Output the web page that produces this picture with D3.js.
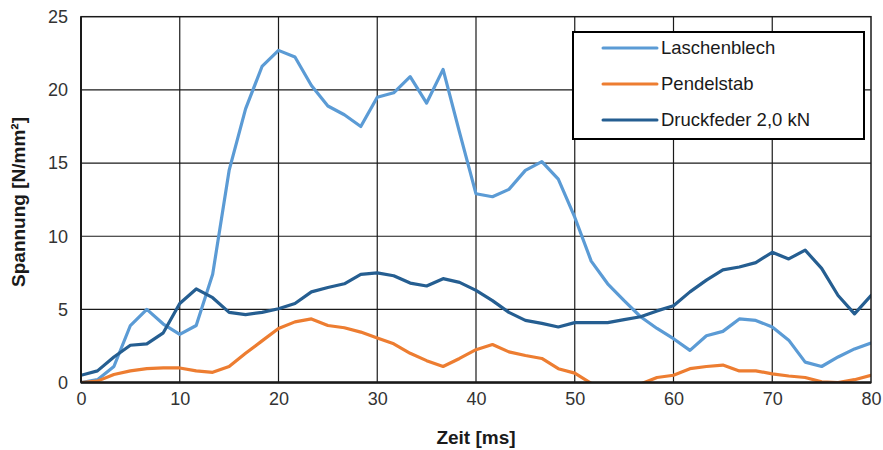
<!DOCTYPE html>
<html>
<head>
<meta charset="utf-8">
<title>Spannung</title>
<style>
  body { margin: 0; background: #fff; }
  svg { font-family: "Liberation Sans", Arial, sans-serif; }
  .grid line { stroke: #1a1a1a; stroke-width: 1.2px; }
  .tick text { fill: #333; font-size: 18px; }
  .axis-title { font-weight: bold; font-size: 19px; fill: #1a1a1a; }
  .legend text { font-size: 18.5px; fill: #1a1a1a; }
</style>
</head>
<body>
<svg width="883" height="450"></svg>
<script src="https://d3js.org/d3.v7.min.js"></script>
<script>

// sample index i -> time i*5/3 ms (49 samples, 0..80 ms)
var nSamples = 49;

var laschenblech = [0, 0.2, 1.1, 3.9, 5.0, 4.0, 3.3, 3.9, 7.4, 14.5,
  18.7, 21.6, 22.7, 22.25, 20.3, 18.9, 18.3, 17.5, 19.5, 19.8,
  20.9, 19.1, 21.4, 17.1, 12.9, 12.7, 13.2, 14.5, 15.1, 13.9,
  11.3, 8.3, 6.75, 5.6, 4.5, 3.7, 3.0, 2.2, 3.2, 3.5,
  4.35, 4.25, 3.8, 2.9, 1.4, 1.1, 1.75, 2.3, 2.7];

var pendelstab = [0, 0.1, 0.55, 0.8, 0.95, 1.0, 1.0, 0.8, 0.7, 1.1,
  2.0, 2.85, 3.7, 4.15, 4.35, 3.9, 3.75, 3.45, 3.05, 2.65,
  2.0, 1.5, 1.1, 1.65, 2.25, 2.6, 2.1, 1.85, 1.65, 0.95,
  0.65, -0.05, -0.6, -0.7, -0.1, 0.35, 0.5, 0.95, 1.1, 1.2,
  0.8, 0.8, 0.6, 0.45, 0.35, 0.05, 0.0, 0.2, 0.5];

var druckfeder = [0.5, 0.8, 1.75, 2.55, 2.65, 3.4, 5.4, 6.4, 5.8, 4.8,
  4.65, 4.8, 5.05, 5.4, 6.2, 6.5, 6.75, 7.4, 7.5, 7.3,
  6.8, 6.6, 7.1, 6.85, 6.3, 5.6, 4.8, 4.25, 4.05, 3.8,
  4.1, 4.1, 4.1, 4.3, 4.5, 4.9, 5.25, 6.2, 7.0, 7.7,
  7.9, 8.2, 8.9, 8.45, 9.05, 7.8, 5.95, 4.7, 5.95];

var seriesNames = ["Laschenblech", "Pendelstab", "Druckfeder 2,0 kN"];
var seriesColors = ["#5B9BD5", "#ED7D31", "#255E91"];
var xTicks = [0, 10, 20, 30, 40, 50, 60, 70, 80];
var yTicks = [0, 5, 10, 15, 20, 25];

var svg = d3.select("svg");
var pLeft = 81, pRight = 871, pTop = 16.7, pBottom = 382.6;

var x = d3.scaleLinear().domain([0, 80]).range([pLeft, pRight]);
var y = d3.scaleLinear().domain([0, 25]).range([pBottom, pTop]);

var times = d3.range(nSamples).map(function(i) { return i * 5 / 3; });

// grid
var grid = svg.append("g").attr("class", "grid");
grid.selectAll(".vx").data(xTicks.slice(1, -1)).enter().append("line")
    .attr("x1", function(d) { return x(d); }).attr("x2", function(d) { return x(d); })
    .attr("y1", pTop).attr("y2", pBottom);
grid.selectAll(".hy").data(yTicks.slice(1, -1)).enter().append("line")
    .attr("x1", pLeft).attr("x2", pRight)
    .attr("y1", function(d) { return y(d); }).attr("y2", function(d) { return y(d); });

// axes (labels only, lines drawn as frame)
svg.append("g")
    .attr("transform", "translate(0," + pBottom + ")")
    .call(d3.axisBottom(x).tickValues(xTicks).tickSize(0).tickPadding(10))
    .call(function(g) { g.select(".domain").remove(); });

svg.append("g")
    .attr("transform", "translate(" + pLeft + ",0)")
    .call(d3.axisLeft(y).tickValues(yTicks).tickSize(0).tickPadding(13))
    .call(function(g) { g.select(".domain").remove(); });

// lines, clipped to the plot area
svg.append("clipPath").attr("id", "plot")
  .append("rect").attr("x", pLeft).attr("y", pTop)
    .attr("width", pRight - pLeft).attr("height", pBottom - pTop);

var line = d3.line()
    .x(function(d, i) { return x(times[i]); })
    .y(function(d) { return y(d); });

var data = [laschenblech, pendelstab, druckfeder];
svg.append("g").attr("clip-path", "url(#plot)")
  .selectAll("path").data(data).enter().append("path")
    .attr("d", line)
    .attr("fill", "none")
    .attr("stroke", function(d, i) { return seriesColors[i]; })
    .attr("stroke-width", 3.2)
    .attr("stroke-linejoin", "round")
    .attr("stroke-linecap", "round");

// frame
svg.append("rect")
    .attr("x", pLeft).attr("y", pTop)
    .attr("width", pRight - pLeft).attr("height", pBottom - pTop)
    .attr("fill", "none").attr("stroke", "#1a1a1a").attr("stroke-width", 1.5);
svg.append("line")
    .attr("x1", pLeft).attr("x2", pRight).attr("y1", pBottom).attr("y2", pBottom)
    .attr("stroke", "#1a1a1a").attr("stroke-width", 2.5);
svg.append("line")
    .attr("x1", pLeft).attr("x2", pLeft).attr("y1", pTop).attr("y2", pBottom)
    .attr("stroke", "#1a1a1a").attr("stroke-width", 2);

// axis titles
svg.append("text").attr("class", "axis-title")
    .attr("x", 476).attr("y", 444)
    .attr("text-anchor", "middle").text("Zeit [ms]");
svg.append("text").attr("class", "axis-title")
    .attr("transform", "translate(25," + 202 + ") rotate(-90)")
    .attr("text-anchor", "middle").text("Spannung [N/mm²]");

// legend
var lg = svg.append("g").attr("class", "legend");
lg.append("rect")
    .attr("x", 573).attr("y", 32).attr("width", 291).attr("height", 107)
    .attr("fill", "#fff").attr("stroke", "#000").attr("stroke-width", 2);
var rows = lg.selectAll(".row").data(seriesNames).enter().append("g")
    .attr("transform", function(d, i) { return "translate(603," + (48 + i * 36) + ")"; });
rows.append("line")
    .attr("x1", 0).attr("x2", 54)
    .attr("stroke", function(d, i) { return seriesColors[i]; })
    .attr("stroke-width", 3).attr("stroke-linecap", "round");
rows.append("text")
    .attr("x", 58).attr("dy", "0.35em").text(function(d) { return d; });

</script>
</body>
</html>
